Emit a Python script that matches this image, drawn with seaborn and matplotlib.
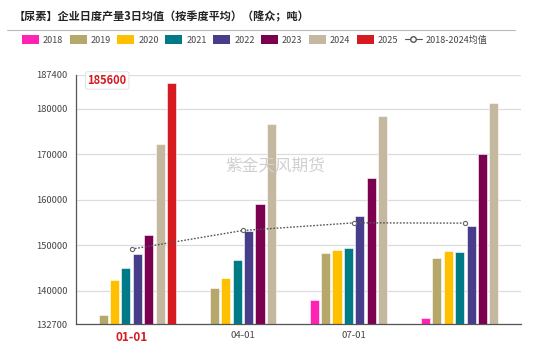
import numpy as np
import pandas as pd
import matplotlib
matplotlib.use("Agg")
import matplotlib.pyplot as plt
import seaborn as sns
from matplotlib.lines import Line2D
from matplotlib.patches import Patch

# ---- data ----
quarters = ["01-01", "04-01", "07-01", "10-01"]
tick_labels = ["01-01", "04-01", "07-01", ""]
years = ["2018", "2019", "2020", "2021", "2022", "2023", "2024", "2025"]
v2018 = [np.nan, np.nan, 137970, 134080]
v2019 = [134740, 140660, 148400, 147090]
v2020 = [142420, 142800, 148940, 148630]
v2021 = [144900, 146800, 149440, 148500]
v2022 = [147970, 153170, 156460, 154200]
v2023 = [152300, 159100, 164860, 170130]
v2024 = [172300, 176580, 178330, 181190]
v2025 = [185600, np.nan, np.nan, np.nan]
avg_label = "2018-2024均值"
avg_vals = [149150, 153240, 154925, 154860]
colors = ["#FF22B4", "#B5A86A", "#FFC000", "#007A87", "#483D8B", "#7B0050", "#C4B8A0", "#D71920"]
title = "【尿素】企业日度产量3日均值（按季度平均）（隆众；吨）"
yticks = [132700, 140000, 150000, 160000, 170000, 180000, 187400]

series = [v2018, v2019, v2020, v2021, v2022, v2023, v2024, v2025]
rows = []
for y, vals in zip(years, series):
    for q, v in zip(quarters, vals):
        rows.append({"q": q, "year": y, "val": v})
df = pd.DataFrame(rows)

sns.set_theme(style="white")
plt.rcParams["font.family"] = ["Noto Sans CJK SC", "DejaVu Sans"]

fig = plt.figure(figsize=(5.5, 3.43), dpi=100)
ax = fig.add_axes([76/550, 1-324/343, 445/550, 249/343])

sns.barplot(data=df, x="q", y="val", hue="year", order=quarters, hue_order=years,
            palette=colors, width=0.82, gap=0.2, ax=ax, legend=False,
            edgecolor="white", linewidth=0.4, saturation=1)

ax.plot(np.arange(len(quarters)), avg_vals, linestyle=(0, (1.2, 1.2)), color="#555555",
        linewidth=1.0, marker="o", markersize=3, markerfacecolor="white",
        markeredgecolor="#666666", markeredgewidth=0.8, zorder=5)

ax.set_ylim(132700, 187400)
ax.set_xlim(-0.5, 3.5)
ax.set_yticks(yticks)
ax.set_yticklabels([str(t) for t in yticks], fontsize=6.7, color="#444444")
ax.set_xticks(range(4))
ax.set_xticklabels(tick_labels, fontsize=6.9, color="#444444")
lbls = ax.get_xticklabels()
lbls[0].set_color("#D71920")
lbls[0].set_fontweight("bold")
lbls[0].set_fontsize(8.5)
ax.set_xlabel("")
ax.set_ylabel("")
ax.grid(axis="y", color="#dddddd", linewidth=0.9)
ax.set_axisbelow(True)
for s in ["top", "right"]:
    ax.spines[s].set_visible(False)
ax.spines["left"].set_color("#555555")
ax.spines["bottom"].set_color("#555555")
ax.spines["left"].set_linewidth(0.9)
ax.spines["bottom"].set_linewidth(0.9)
ax.tick_params(axis="y", length=4, width=0.8, color="#555555", pad=2)
ax.tick_params(axis="x", length=3, width=0.8, color="#555555", pad=2)

# value label for 2025
ax.text(0.07, 0.978, "185600", transform=ax.transAxes, ha="center", va="center",
        fontsize=8, fontweight="bold", color="#D71920",
        bbox=dict(boxstyle="round,pad=0.2", facecolor="white", edgecolor="#dddddd", linewidth=0.6))

# watermark
fig.text(275/550, 1-166/343, "紫金天风期货", ha="center", va="center",
         fontsize=12, color="#d0d0d0")

# title
fig.text(14/550, 1-17/343, title, ha="left", va="center", fontsize=8.0,
         fontweight="bold", color="#222222")
fig.add_artist(Line2D([7/550, 515/550], [1-30/343, 1-30/343], color="#bbbbbb", linewidth=0.8))

# legend
handles = [Patch(facecolor=c, edgecolor="none", label=y) for c, y in zip(colors, years)]
handles.append(Line2D([], [], color="#555555", linewidth=0.8, marker="o", markersize=4,
                      markerfacecolor="white", markeredgecolor="#555555", label=avg_label))
fig.legend(handles=handles, loc="center left", bbox_to_anchor=(22/550, 1-40/343), ncol=9,
           frameon=False, fontsize=6.5, handlelength=1.88, handleheight=1.0,
           handletextpad=0.44, columnspacing=0.72, borderaxespad=0, borderpad=0,
           labelcolor="#444444")

fig.savefig("out.png", dpi=100)
